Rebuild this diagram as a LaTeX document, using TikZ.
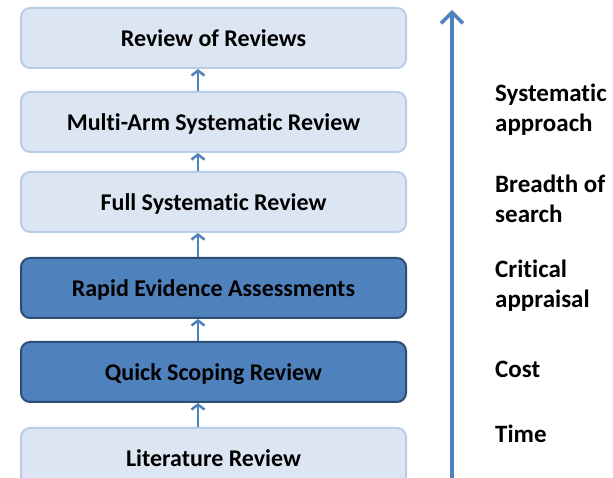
\documentclass[tikz,border=0pt]{standalone}
\usepackage{fontspec}
\setmainfont{Carlito}[Ligatures=NoCommon]
\usetikzlibrary{arrows.meta}
\definecolor{lightfill}{HTML}{DCE6F2}
\definecolor{lightline}{HTML}{B9CDE5}
\definecolor{darkfill}{HTML}{4F81BD}
\definecolor{darkline}{HTML}{2C4D75}
\definecolor{arrowblue}{HTML}{4F81BD}
\begin{document}
\begin{tikzpicture}[x=1pt,y=1pt,
    lightbox/.style={draw=lightline,fill=lightfill,line width=2pt,rounded corners=9pt,
      minimum width=385pt,minimum height=60pt,text height=20pt,text depth=2pt,
      font=\bfseries\fontsize{24}{28}\selectfont},
    darkbox/.style={lightbox,draw=darkline,fill=darkfill},
    sidetext/.style={anchor=base west,align=left,inner sep=0pt,
      font=\bfseries\fontsize{25}{30}\selectfont},
    uparrow/.style={arrowblue,line width=2.5pt,-{Straight Barb[length=5pt,width=13pt]}}]
  \useasboundingbox (0,0) rectangle (613,478);
  \draw
    (213.5,440) node[lightbox] (0){Review of Reviews}
    (213.5,356) node[lightbox] (1){Multi-Arm Systematic Review}
    (213.5,276) node[lightbox] (2){Full Systematic Review}
    (213.5,190) node[darkbox] (3){Rapid Evidence Assessments}
    (213.5,106) node[darkbox] (4){Quick Scoping Review}
    (213.5,20) node[lightbox] (5){Literature Review};
  \begin{scope}[uparrow]
    \draw ([xshift=-15.5pt]5.north) to ([xshift=-15.5pt]4.south);
    \draw ([xshift=-15.5pt]4.north) to ([xshift=-15.5pt]3.south);
    \draw ([xshift=-15.5pt]3.north) to ([xshift=-15.5pt]2.south);
    \draw ([xshift=-15.5pt]2.north) to ([xshift=-15.5pt]1.south);
    \draw ([xshift=-15.5pt]1.north) to ([xshift=-15.5pt]0.south);
  \end{scope}
  % axis on the right
  \coordinate (axisbot) at (452,-2);
  \coordinate (axistop) at (452,468);
  \draw[arrowblue,line width=3.5pt,-{Straight Barb[length=11pt,width=22pt]}] (axisbot) -- (axistop);
  \draw
    (495,346) node[sidetext] (6){Systematic\\approach}
    (495,255) node[sidetext] (7){Breadth of\\search}
    (495,170) node[sidetext] (8){Critical\\appraisal}
    (495,100) node[sidetext] (9){Cost}
    (495,35) node[sidetext] (10){Time};
\end{tikzpicture}
\end{document}
